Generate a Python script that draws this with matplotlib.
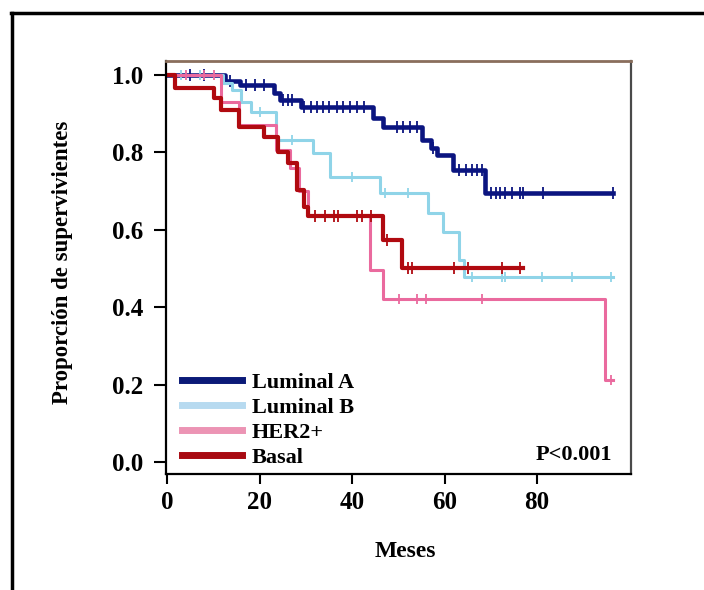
import numpy as np
import matplotlib
matplotlib.use("Agg")
import matplotlib.pyplot as plt
from matplotlib.lines import Line2D

# ---- data ----
groups = ["Luminal A", "Luminal B", "HER2+", "Basal"]

lumA_t = [0, 12.5, 15.8, 23.0, 24.4, 28.8, 44.5, 46.7, 55.0, 57.0, 58.4, 61.8, 68.8, 96.5]
lumA_s = [1.0, 0.984, 0.974, 0.953, 0.935, 0.917, 0.889, 0.866, 0.832, 0.81, 0.793, 0.754, 0.695, 0.695]
lumA_c = [5, 8, 13.5, 17, 19, 21, 25, 26, 27, 29.5, 31, 32.4, 33.7, 35, 36.8, 38, 39.5, 41, 42.5,
          49.7, 51, 52.5, 54, 57.5, 63, 64.5, 66, 67, 68, 70, 71, 72, 73, 74.6, 76.3, 77, 81.3, 96.4]

lumB_t = [0, 12.0, 14.0, 16.0, 18.0, 23.5, 31.6, 35.2, 46.0, 56.4, 59.7, 63.0, 64.2, 96.5]
lumB_s = [1.0, 0.98, 0.96, 0.93, 0.905, 0.832, 0.798, 0.737, 0.695, 0.643, 0.594, 0.522, 0.478, 0.478]
lumB_c = [3, 7, 20, 27, 40, 47, 52, 66, 72.4, 73, 81, 87.5, 96]

her2_t = [0, 11.5, 15.5, 23.4, 26.5, 28.5, 30.5, 43.9, 46.7, 94.7, 96.5]
her2_s = [1.0, 0.93, 0.87, 0.806, 0.76, 0.70, 0.638, 0.496, 0.42, 0.212, 0.212]
her2_c = [4, 8, 10, 50, 54, 56, 68, 96]

basal_t = [0, 1.7, 10.0, 11.5, 15.5, 20.8, 24.0, 26.0, 28.0, 29.5, 30.5, 46.7, 50.8, 77.0]
basal_s = [1.0, 0.966, 0.94, 0.91, 0.866, 0.84, 0.80, 0.773, 0.703, 0.66, 0.636, 0.574, 0.501, 0.501]
basal_c = [32, 34, 36, 37, 41, 42, 44, 47.5, 52, 53, 62, 65, 72.4, 76.3]

x_ticks = [0, 20, 40, 60, 80]
y_ticks = [0.0, 0.2, 0.4, 0.6, 0.8, 1.0]
y_ticklabels = ["0.0", "0.2", "0.4", "0.6", "0.8", "1.0"]

colors = ["#0b1580", "#8fd4e8", "#ea6a9e", "#b00a10"]
legend_colors = ["#0b1a78", "#b7daf0", "#ec94b4", "#a80a12"]
widths = [3.3, 2.2, 2.2, 3.0]

series = [(lumA_t, lumA_s, lumA_c), (lumB_t, lumB_s, lumB_c),
          (her2_t, her2_s, her2_c), (basal_t, basal_s, basal_c)]

serif = ["Liberation Serif", "DejaVu Serif"]

fig = plt.figure(figsize=(7.04, 5.90), dpi=100)
fig.patch.set_facecolor("white")

# outer frame lines (top and left)
fig.add_artist(Line2D([12/704, 12/704], [0, 1 - 13/590], transform=fig.transFigure,
                      color="black", lw=2.5))
fig.add_artist(Line2D([11/704, 1], [1 - 13/590, 1 - 13/590], transform=fig.transFigure,
                      color="black", lw=2.5))

ax = fig.add_axes([166/704, 1 - 474/590, (631 - 166)/704, (474 - 61)/590])

# draw order: light blue, pink, then dark red, navy on top
order = [1, 2, 3, 0]
for i in order:
    t, s, c = series[i]
    ax.step(t, s, where="post", color=colors[i], lw=widths[i], zorder=2 + i * 0.1)
    cy = [s[np.searchsorted(t, ci, side="right") - 1] for ci in c]
    ax.plot(c, cy, linestyle="none", marker="|", markersize=9 if widths[i] > 2.5 else 7,
            markeredgewidth=1.3, color=colors[i], zorder=2 + i * 0.1)

ax.set_xlim(-0.3, 100.3)
ax.set_ylim(-0.031, 1.036)
ax.set_xticks(x_ticks)
ax.set_xticklabels([str(v) for v in x_ticks], fontfamily=serif, fontweight="bold", fontsize=18)
ax.set_yticks(y_ticks)
ax.set_yticklabels(y_ticklabels, fontfamily=serif, fontweight="bold", fontsize=18)
ax.tick_params(axis="y", direction="out", length=8.5, width=1.5, colors="black", pad=8)
ax.tick_params(axis="x", direction="out", length=7.5, width=1.5, colors="black", pad=5)

for side in ["left", "bottom"]:
    ax.spines[side].set_color("black")
    ax.spines[side].set_linewidth(1.6)
ax.spines["top"].set_color("#8a6e5c")
ax.spines["top"].set_linewidth(2.0)
ax.spines["right"].set_color("#4a4a4a")
ax.spines["right"].set_linewidth(1.6)

ax.set_ylabel("Proporción de supervivientes", fontfamily=serif, fontweight="bold",
              fontsize=16.5)
ax.yaxis.set_label_coords(-0.2, 0.513)
ax.set_xlabel("Meses", fontfamily=serif, fontweight="bold", fontsize=17)
ax.xaxis.set_label_coords(0.515, -0.162)

handles = [Line2D([0], [0], color=legend_colors[i], lw=5) for i in range(4)]
leg = ax.legend(handles, groups, loc="lower left", bbox_to_anchor=(0.015, -0.006),
                borderaxespad=0, frameon=False, handlelength=2.7, handletextpad=0.45,
                labelspacing=0.2, prop={"family": serif, "weight": "bold", "size": 16})

ax.text(0.959, 0.034, "P<0.001", transform=ax.transAxes, ha="right", va="baseline",
        fontfamily=serif, fontweight="bold", fontsize=16)

fig.savefig("out.png", dpi=100, facecolor="white")
